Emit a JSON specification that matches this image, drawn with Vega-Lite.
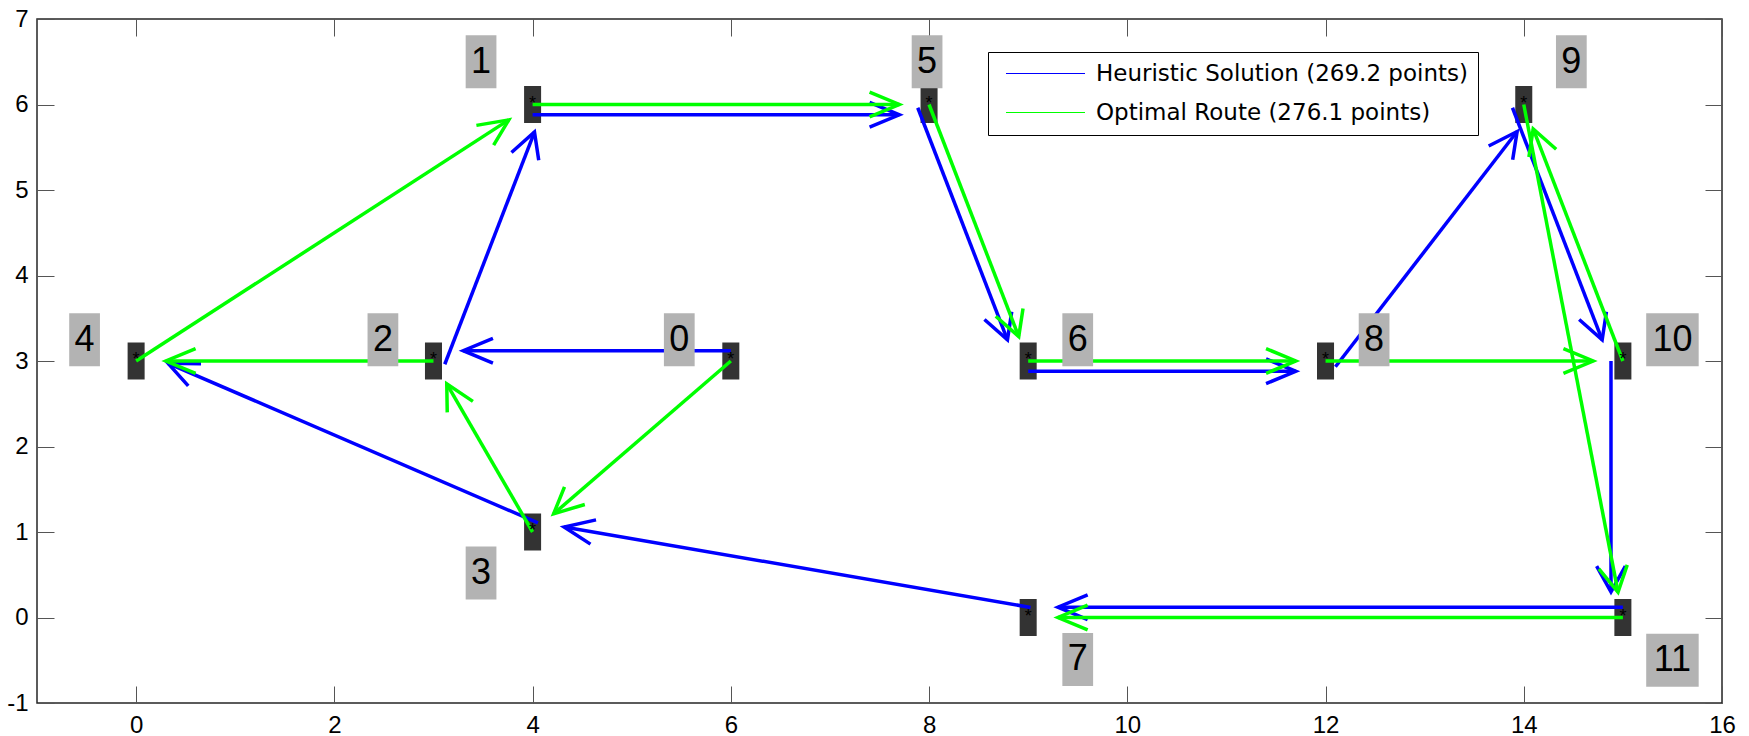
{
  "$schema": "https://vega.github.io/schema/vega-lite/v6.json",
  "width": 1685,
  "height": 684,
  "autosize": {"type": "none"},
  "padding": {"left": 37, "top": 19, "right": 27, "bottom": 33},
  "background": "#ffffff",
  "config": {"view": {"stroke": "#262626", "strokeWidth": 1.5}},
  "datasets": {
    "nodes": [
      {"node": "0", "x": 6, "y": 3}, {"node": "1", "x": 4, "y": 6}, {"node": "2", "x": 3, "y": 3},
      {"node": "3", "x": 4, "y": 1}, {"node": "4", "x": 0, "y": 3}, {"node": "5", "x": 8, "y": 6},
      {"node": "6", "x": 9, "y": 3}, {"node": "7", "x": 9, "y": 0}, {"node": "8", "x": 12, "y": 3},
      {"node": "9", "x": 14, "y": 6}, {"node": "10", "x": 15, "y": 3}, {"node": "11", "x": 15, "y": 0}
    ],
    "labels": [
      {"label": "0", "x": 5.48, "y": 3.25}, {"label": "1", "x": 3.48, "y": 6.5}, {"label": "2", "x": 2.49, "y": 3.25},
      {"label": "3", "x": 3.48, "y": 0.52}, {"label": "4", "x": -0.52, "y": 3.25}, {"label": "5", "x": 7.98, "y": 6.5},
      {"label": "6", "x": 9.5, "y": 3.25}, {"label": "7", "x": 9.5, "y": -0.49}, {"label": "8", "x": 12.49, "y": 3.25},
      {"label": "9", "x": 14.48, "y": 6.5}, {"label": "10", "x": 15.5, "y": 3.25}, {"label": "11", "x": 15.5, "y": -0.5}
    ],
    "arrows": [
      {"route": "Heuristic Solution (269.2 points)", "seg": "B1s", "ord": 0, "x": 6, "y": 3.12},
      {"route": "Heuristic Solution (269.2 points)", "seg": "B1s", "ord": 1, "x": 3.3, "y": 3.12},
      {"route": "Heuristic Solution (269.2 points)", "seg": "B1h", "ord": 0, "x": 3.6, "y": 3.265},
      {"route": "Heuristic Solution (269.2 points)", "seg": "B1h", "ord": 1, "x": 3.3, "y": 3.12},
      {"route": "Heuristic Solution (269.2 points)", "seg": "B1h", "ord": 2, "x": 3.6, "y": 2.975},
      {"route": "Heuristic Solution (269.2 points)", "seg": "B2s", "ord": 0, "x": 3.114, "y": 2.962},
      {"route": "Heuristic Solution (269.2 points)", "seg": "B2s", "ord": 1, "x": 4.019, "y": 5.678},
      {"route": "Heuristic Solution (269.2 points)", "seg": "B2h", "ord": 0, "x": 4.062, "y": 5.347},
      {"route": "Heuristic Solution (269.2 points)", "seg": "B2h", "ord": 1, "x": 4.019, "y": 5.678},
      {"route": "Heuristic Solution (269.2 points)", "seg": "B2h", "ord": 2, "x": 3.787, "y": 5.439},
      {"route": "Heuristic Solution (269.2 points)", "seg": "B3s", "ord": 0, "x": 4, "y": 5.88},
      {"route": "Heuristic Solution (269.2 points)", "seg": "B3s", "ord": 1, "x": 7.7, "y": 5.88},
      {"route": "Heuristic Solution (269.2 points)", "seg": "B3h", "ord": 0, "x": 7.4, "y": 5.735},
      {"route": "Heuristic Solution (269.2 points)", "seg": "B3h", "ord": 1, "x": 7.7, "y": 5.88},
      {"route": "Heuristic Solution (269.2 points)", "seg": "B3h", "ord": 2, "x": 7.4, "y": 6.025},
      {"route": "Heuristic Solution (269.2 points)", "seg": "B4s", "ord": 0, "x": 7.886, "y": 5.962},
      {"route": "Heuristic Solution (269.2 points)", "seg": "B4s", "ord": 1, "x": 8.791, "y": 3.247},
      {"route": "Heuristic Solution (269.2 points)", "seg": "B4h", "ord": 0, "x": 8.559, "y": 3.485},
      {"route": "Heuristic Solution (269.2 points)", "seg": "B4h", "ord": 1, "x": 8.791, "y": 3.247},
      {"route": "Heuristic Solution (269.2 points)", "seg": "B4h", "ord": 2, "x": 8.834, "y": 3.577},
      {"route": "Heuristic Solution (269.2 points)", "seg": "B5s", "ord": 0, "x": 9, "y": 2.88},
      {"route": "Heuristic Solution (269.2 points)", "seg": "B5s", "ord": 1, "x": 11.7, "y": 2.88},
      {"route": "Heuristic Solution (269.2 points)", "seg": "B5h", "ord": 0, "x": 11.4, "y": 2.735},
      {"route": "Heuristic Solution (269.2 points)", "seg": "B5h", "ord": 1, "x": 11.7, "y": 2.88},
      {"route": "Heuristic Solution (269.2 points)", "seg": "B5h", "ord": 2, "x": 11.4, "y": 3.025},
      {"route": "Heuristic Solution (269.2 points)", "seg": "B6s", "ord": 0, "x": 12.1, "y": 2.933},
      {"route": "Heuristic Solution (269.2 points)", "seg": "B6s", "ord": 1, "x": 13.933, "y": 5.684},
      {"route": "Heuristic Solution (269.2 points)", "seg": "B6h", "ord": 0, "x": 13.888, "y": 5.354},
      {"route": "Heuristic Solution (269.2 points)", "seg": "B6h", "ord": 1, "x": 13.933, "y": 5.684},
      {"route": "Heuristic Solution (269.2 points)", "seg": "B6h", "ord": 2, "x": 13.646, "y": 5.515},
      {"route": "Heuristic Solution (269.2 points)", "seg": "B7s", "ord": 0, "x": 13.886, "y": 5.962},
      {"route": "Heuristic Solution (269.2 points)", "seg": "B7s", "ord": 1, "x": 14.791, "y": 3.247},
      {"route": "Heuristic Solution (269.2 points)", "seg": "B7h", "ord": 0, "x": 14.559, "y": 3.485},
      {"route": "Heuristic Solution (269.2 points)", "seg": "B7h", "ord": 1, "x": 14.791, "y": 3.247},
      {"route": "Heuristic Solution (269.2 points)", "seg": "B7h", "ord": 2, "x": 14.834, "y": 3.577},
      {"route": "Heuristic Solution (269.2 points)", "seg": "B8s", "ord": 0, "x": 14.88, "y": 3},
      {"route": "Heuristic Solution (269.2 points)", "seg": "B8s", "ord": 1, "x": 14.88, "y": 0.3},
      {"route": "Heuristic Solution (269.2 points)", "seg": "B8h", "ord": 0, "x": 14.735, "y": 0.6},
      {"route": "Heuristic Solution (269.2 points)", "seg": "B8h", "ord": 1, "x": 14.88, "y": 0.3},
      {"route": "Heuristic Solution (269.2 points)", "seg": "B8h", "ord": 2, "x": 15.025, "y": 0.6},
      {"route": "Heuristic Solution (269.2 points)", "seg": "B9s", "ord": 0, "x": 15, "y": 0.12},
      {"route": "Heuristic Solution (269.2 points)", "seg": "B9s", "ord": 1, "x": 9.3, "y": 0.12},
      {"route": "Heuristic Solution (269.2 points)", "seg": "B9h", "ord": 0, "x": 9.6, "y": 0.265},
      {"route": "Heuristic Solution (269.2 points)", "seg": "B9h", "ord": 1, "x": 9.3, "y": 0.12},
      {"route": "Heuristic Solution (269.2 points)", "seg": "B9h", "ord": 2, "x": 9.6, "y": -0.025},
      {"route": "Heuristic Solution (269.2 points)", "seg": "B10s", "ord": 0, "x": 9.024, "y": 0.118},
      {"route": "Heuristic Solution (269.2 points)", "seg": "B10s", "ord": 1, "x": 4.318, "y": 1.059},
      {"route": "Heuristic Solution (269.2 points)", "seg": "B10h", "ord": 0, "x": 4.64, "y": 1.142},
      {"route": "Heuristic Solution (269.2 points)", "seg": "B10h", "ord": 1, "x": 4.318, "y": 1.059},
      {"route": "Heuristic Solution (269.2 points)", "seg": "B10h", "ord": 2, "x": 4.584, "y": 0.858},
      {"route": "Heuristic Solution (269.2 points)", "seg": "B11s", "ord": 0, "x": 4.054, "y": 1.107},
      {"route": "Heuristic Solution (269.2 points)", "seg": "B11s", "ord": 1, "x": 0.322, "y": 2.973},
      {"route": "Heuristic Solution (269.2 points)", "seg": "B11h", "ord": 0, "x": 0.655, "y": 2.969},
      {"route": "Heuristic Solution (269.2 points)", "seg": "B11h", "ord": 1, "x": 0.322, "y": 2.973},
      {"route": "Heuristic Solution (269.2 points)", "seg": "B11h", "ord": 2, "x": 0.526, "y": 2.709},
      {"route": "Optimal Route (276.1 points)", "seg": "G1s", "ord": 0, "x": 6, "y": 3},
      {"route": "Optimal Route (276.1 points)", "seg": "G1s", "ord": 1, "x": 4.212, "y": 1.212},
      {"route": "Optimal Route (276.1 points)", "seg": "G1h", "ord": 0, "x": 4.322, "y": 1.527},
      {"route": "Optimal Route (276.1 points)", "seg": "G1h", "ord": 1, "x": 4.212, "y": 1.212},
      {"route": "Optimal Route (276.1 points)", "seg": "G1h", "ord": 2, "x": 4.527, "y": 1.322},
      {"route": "Optimal Route (276.1 points)", "seg": "G2s", "ord": 0, "x": 4, "y": 1},
      {"route": "Optimal Route (276.1 points)", "seg": "G2s", "ord": 1, "x": 3.134, "y": 2.732},
      {"route": "Optimal Route (276.1 points)", "seg": "G2h", "ord": 0, "x": 3.398, "y": 2.528},
      {"route": "Optimal Route (276.1 points)", "seg": "G2h", "ord": 1, "x": 3.134, "y": 2.732},
      {"route": "Optimal Route (276.1 points)", "seg": "G2h", "ord": 2, "x": 3.139, "y": 2.399},
      {"route": "Optimal Route (276.1 points)", "seg": "G3s", "ord": 0, "x": 3, "y": 3},
      {"route": "Optimal Route (276.1 points)", "seg": "G3s", "ord": 1, "x": 0.3, "y": 3},
      {"route": "Optimal Route (276.1 points)", "seg": "G3h", "ord": 0, "x": 0.6, "y": 3.145},
      {"route": "Optimal Route (276.1 points)", "seg": "G3h", "ord": 1, "x": 0.3, "y": 3},
      {"route": "Optimal Route (276.1 points)", "seg": "G3h", "ord": 2, "x": 0.6, "y": 2.855},
      {"route": "Optimal Route (276.1 points)", "seg": "G4s", "ord": 0, "x": 0, "y": 3},
      {"route": "Optimal Route (276.1 points)", "seg": "G4s", "ord": 1, "x": 3.76, "y": 5.82},
      {"route": "Optimal Route (276.1 points)", "seg": "G4h", "ord": 0, "x": 3.607, "y": 5.524},
      {"route": "Optimal Route (276.1 points)", "seg": "G4h", "ord": 1, "x": 3.76, "y": 5.82},
      {"route": "Optimal Route (276.1 points)", "seg": "G4h", "ord": 2, "x": 3.433, "y": 5.756},
      {"route": "Optimal Route (276.1 points)", "seg": "G5s", "ord": 0, "x": 4, "y": 6},
      {"route": "Optimal Route (276.1 points)", "seg": "G5s", "ord": 1, "x": 7.7, "y": 6},
      {"route": "Optimal Route (276.1 points)", "seg": "G5h", "ord": 0, "x": 7.4, "y": 5.855},
      {"route": "Optimal Route (276.1 points)", "seg": "G5h", "ord": 1, "x": 7.7, "y": 6},
      {"route": "Optimal Route (276.1 points)", "seg": "G5h", "ord": 2, "x": 7.4, "y": 6.145},
      {"route": "Optimal Route (276.1 points)", "seg": "G6s", "ord": 0, "x": 8, "y": 6},
      {"route": "Optimal Route (276.1 points)", "seg": "G6s", "ord": 1, "x": 8.905, "y": 3.285},
      {"route": "Optimal Route (276.1 points)", "seg": "G6h", "ord": 0, "x": 8.673, "y": 3.523},
      {"route": "Optimal Route (276.1 points)", "seg": "G6h", "ord": 1, "x": 8.905, "y": 3.285},
      {"route": "Optimal Route (276.1 points)", "seg": "G6h", "ord": 2, "x": 8.948, "y": 3.615},
      {"route": "Optimal Route (276.1 points)", "seg": "G7s", "ord": 0, "x": 9, "y": 3},
      {"route": "Optimal Route (276.1 points)", "seg": "G7s", "ord": 1, "x": 11.7, "y": 3},
      {"route": "Optimal Route (276.1 points)", "seg": "G7h", "ord": 0, "x": 11.4, "y": 2.855},
      {"route": "Optimal Route (276.1 points)", "seg": "G7h", "ord": 1, "x": 11.7, "y": 3},
      {"route": "Optimal Route (276.1 points)", "seg": "G7h", "ord": 2, "x": 11.4, "y": 3.145},
      {"route": "Optimal Route (276.1 points)", "seg": "G8s", "ord": 0, "x": 12, "y": 3},
      {"route": "Optimal Route (276.1 points)", "seg": "G8s", "ord": 1, "x": 14.7, "y": 3},
      {"route": "Optimal Route (276.1 points)", "seg": "G8h", "ord": 0, "x": 14.4, "y": 2.855},
      {"route": "Optimal Route (276.1 points)", "seg": "G8h", "ord": 1, "x": 14.7, "y": 3},
      {"route": "Optimal Route (276.1 points)", "seg": "G8h", "ord": 2, "x": 14.4, "y": 3.145},
      {"route": "Optimal Route (276.1 points)", "seg": "G9s", "ord": 0, "x": 15, "y": 3},
      {"route": "Optimal Route (276.1 points)", "seg": "G9s", "ord": 1, "x": 14.095, "y": 5.715},
      {"route": "Optimal Route (276.1 points)", "seg": "G9h", "ord": 0, "x": 14.327, "y": 5.477},
      {"route": "Optimal Route (276.1 points)", "seg": "G9h", "ord": 1, "x": 14.095, "y": 5.715},
      {"route": "Optimal Route (276.1 points)", "seg": "G9h", "ord": 2, "x": 14.052, "y": 5.385},
      {"route": "Optimal Route (276.1 points)", "seg": "G10s", "ord": 0, "x": 14, "y": 6},
      {"route": "Optimal Route (276.1 points)", "seg": "G10s", "ord": 1, "x": 14.951, "y": 0.296},
      {"route": "Optimal Route (276.1 points)", "seg": "G10h", "ord": 0, "x": 14.758, "y": 0.568},
      {"route": "Optimal Route (276.1 points)", "seg": "G10h", "ord": 1, "x": 14.951, "y": 0.296},
      {"route": "Optimal Route (276.1 points)", "seg": "G10h", "ord": 2, "x": 15.044, "y": 0.616},
      {"route": "Optimal Route (276.1 points)", "seg": "G11s", "ord": 0, "x": 15, "y": 0},
      {"route": "Optimal Route (276.1 points)", "seg": "G11s", "ord": 1, "x": 9.3, "y": 0},
      {"route": "Optimal Route (276.1 points)", "seg": "G11h", "ord": 0, "x": 9.6, "y": 0.145},
      {"route": "Optimal Route (276.1 points)", "seg": "G11h", "ord": 1, "x": 9.3, "y": 0},
      {"route": "Optimal Route (276.1 points)", "seg": "G11h", "ord": 2, "x": 9.6, "y": -0.145}
    ]
  },
  "resolve": {"axis": {"x": "independent", "y": "independent"}},
  "layer": [
    {
      "data": {"name": "nodes"},
      "mark": {"type": "point", "shape": "M-0.46,-1L0.46,-1L0.46,1L-0.46,1Z", "filled": true, "color": "#333333", "opacity": 1, "size": 1369, "strokeWidth": 0},
      "encoding": {
        "x": {"field": "x", "type": "quantitative", "scale": {"domain": [-1, 16], "nice": false, "zero": false},
              "axis": {"orient": "bottom", "values": [0, 2, 4, 6, 8, 10, 12, 14, 16], "title": null, "domain": false, "grid": false,
                       "tickSize": -17, "tickColor": "#555555", "tickWidth": 1, "labelPadding": 27, "labelFont": "Liberation Sans",
                       "labelFontSize": 24, "labelColor": "#000000", "labelFlush": false, "labelExpr": "'' + datum.value"}},
        "y": {"field": "y", "type": "quantitative", "scale": {"domain": [-1, 7], "nice": false, "zero": false},
              "axis": {"orient": "left", "values": [-1, 0, 1, 2, 3, 4, 5, 6, 7], "title": null, "domain": false, "grid": false,
                       "tickSize": -17, "tickColor": "#555555", "tickWidth": 1, "labelPadding": 26, "labelFont": "Liberation Sans",
                       "labelFontSize": 24, "labelColor": "#000000", "labelFlush": false, "labelExpr": "'' + datum.value"}}
      }
    },
    {
      "data": {"name": "arrows"},
      "mark": {"type": "line", "strokeWidth": 3.5, "strokeCap": "butt", "strokeJoin": "miter"},
      "encoding": {
        "x": {"field": "x", "type": "quantitative", "scale": {"domain": [-1, 16], "nice": false, "zero": false},
              "axis": {"orient": "top", "values": [0, 2, 4, 6, 8, 10, 12, 14, 16], "title": null, "domain": false, "grid": false,
                       "labels": false, "tickSize": -17, "tickColor": "#555555", "tickWidth": 1}},
        "y": {"field": "y", "type": "quantitative", "scale": {"domain": [-1, 7], "nice": false, "zero": false},
              "axis": {"orient": "right", "values": [-1, 0, 1, 2, 3, 4, 5, 6, 7], "title": null, "domain": false, "grid": false,
                       "labels": false, "tickSize": -17, "tickColor": "#555555", "tickWidth": 1}},
        "color": {"field": "route", "type": "nominal",
                  "scale": {"domain": ["Heuristic Solution (269.2 points)", "Optimal Route (276.1 points)"], "range": ["#0000ff", "#00ff00"]},
                  "legend": {"title": null, "orient": "none", "legendX": 951, "legendY": 33, "symbolType": "M-3.95,0L3.95,0", "symbolSize": 400,
                             "symbolStrokeWidth": 1, "labelFont": "DejaVu Sans", "labelFontSize": 23, "labelColor": "#000000",
                             "labelOffset": 39, "padding": 10, "rowPadding": 15, "symbolOffset": 36, "strokeColor": "#000000",
                             "fillColor": "#ffffff", "labelLimit": 600}},
        "detail": {"field": "seg", "type": "nominal"},
        "order": {"field": "ord", "type": "quantitative"}
      }
    },
    {
      "data": {"name": "nodes"},
      "mark": {"type": "text", "text": "*", "font": "Liberation Sans", "fontSize": 18, "baseline": "middle", "align": "center", "dy": -1, "color": "#000000"},
      "encoding": {
        "x": {"field": "x", "type": "quantitative", "axis": null},
        "y": {"field": "y", "type": "quantitative", "axis": null}
      }
    },
    {
      "data": {"name": "labels"},
      "mark": {"type": "point", "filled": true, "color": "#b3b3b3", "opacity": 1, "size": 2809, "strokeWidth": 0},
      "encoding": {
        "x": {"field": "x", "type": "quantitative", "axis": null},
        "y": {"field": "y", "type": "quantitative", "axis": null},
        "shape": {"field": "label", "type": "nominal", "legend": null,
                  "scale": {"domain": ["0", "1", "2", "3", "4", "5", "6", "7", "8", "9", "10", "11"],
                            "range": ["M-0.58,-1L0.58,-1L0.58,1L-0.58,1Z", "M-0.58,-1L0.58,-1L0.58,1L-0.58,1Z", "M-0.58,-1L0.58,-1L0.58,1L-0.58,1Z",
                                      "M-0.58,-1L0.58,-1L0.58,1L-0.58,1Z", "M-0.58,-1L0.58,-1L0.58,1L-0.58,1Z", "M-0.58,-1L0.58,-1L0.58,1L-0.58,1Z",
                                      "M-0.58,-1L0.58,-1L0.58,1L-0.58,1Z", "M-0.58,-1L0.58,-1L0.58,1L-0.58,1Z", "M-0.58,-1L0.58,-1L0.58,1L-0.58,1Z",
                                      "M-0.58,-1L0.58,-1L0.58,1L-0.58,1Z", "M-0.99,-1L0.99,-1L0.99,1L-0.99,1Z", "M-0.99,-1L0.99,-1L0.99,1L-0.99,1Z"]}}
      }
    },
    {
      "data": {"name": "labels"},
      "mark": {"type": "text", "font": "Liberation Sans", "fontSize": 36, "baseline": "middle", "align": "center", "color": "#000000"},
      "encoding": {
        "x": {"field": "x", "type": "quantitative", "axis": null},
        "y": {"field": "y", "type": "quantitative", "axis": null},
        "text": {"field": "label", "type": "nominal"}
      }
    }
  ]
}
